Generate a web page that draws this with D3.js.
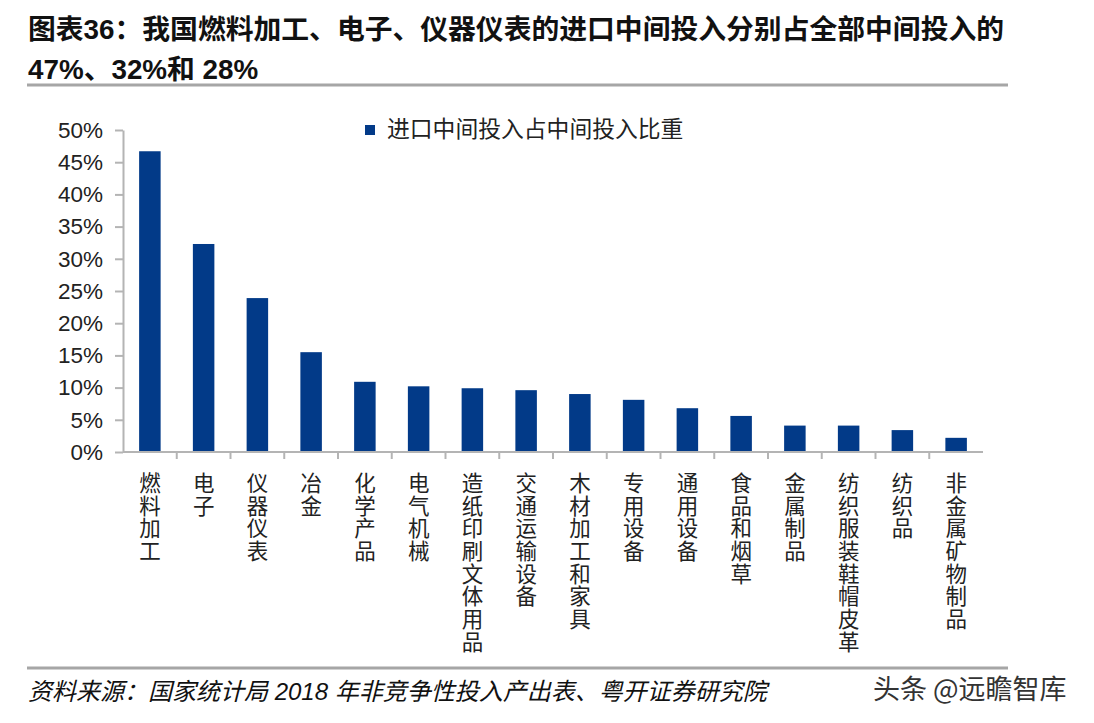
<!DOCTYPE html>
<html>
<head>
<meta charset="utf-8">
<script src="https://cdn.jsdelivr.net/npm/d3@7"></script>
<style>
  body { margin: 0; background: #fff; }
  svg { display: block; font-family: "Liberation Sans", "Noto Sans CJK SC", sans-serif; }
</style>
</head>
<body>
<svg id="chart" width="1094" height="723"></svg>
<script>
// data
const categories = ['燃料加工', '电子', '仪器仪表', '冶金', '化学产品', '电气机械', '造纸印刷文体用品',
    '交通运输设备', '木材加工和家具', '专用设备', '通用设备', '食品和烟草', '金属制品',
    '纺织服装鞋帽皮革', '纺织品', '非金属矿物制品'];
const shares = [46.7, 32.3, 23.9, 15.5, 10.9, 10.2, 9.9, 9.6, 9.0, 8.1, 6.8, 5.6, 4.1, 4.1, 3.4, 2.2];
const yTicks = [0, 5, 10, 15, 20, 25, 30, 35, 40, 45, 50];
const seriesName = '进口中间投入占中间投入比重';
const titleLines = ['图表36：我国燃料加工、电子、仪器仪表的进口中间投入分别占全部中间投入的', '47%、32%和 28%'];
const sourceText = '资料来源：国家统计局 2018 年非竞争性投入产出表、粤开证券研究院';
const watermark = '头条 @远瞻智库';

const barColor = '#023a88';
const axisColor = '#b4b4b4';

const svg = d3.select('#chart');

// title block
svg.selectAll('.title-line')
    .data(titleLines)
    .enter().append('text')
    .attr('class', 'title-line')
    .attr('x', 28)
    .attr('y', (d, i) => 39 + i * 40)
    .style('font-size', (d, i) => i === 0 ? '27.8px' : '27.8px')
    .style('font-weight', 'bold')
    .style('fill', '#111')
    .text(d => d);

svg.append('line')
    .attr('x1', 27).attr('x2', 1008)
    .attr('y1', 85).attr('y2', 85)
    .style('stroke', '#a6a6a6')
    .style('stroke-width', 3);

svg.append('line')
    .attr('x1', 27).attr('x2', 1008)
    .attr('y1', 668).attr('y2', 668)
    .style('stroke', '#a6a6a6')
    .style('stroke-width', 3);

// scales
const x = d3.scaleBand()
    .domain(categories)
    .range([123, 983])
    .paddingInner(0.6)
    .paddingOuter(0.3);

const xEdges = d3.scaleBand()
    .domain(categories)
    .range([123, 983]);

const y = d3.scaleLinear()
    .domain([0, 50])
    .range([452, 130]);

// y axis
const yAxis = svg.append('g')
    .attr('transform', 'translate(123,0)')
    .call(d3.axisLeft(y)
        .tickValues(yTicks)
        .tickFormat(d => d + '%')
        .tickSize(8)
        .tickSizeOuter(0)
        .tickPadding(12));

yAxis.select('.domain').style('stroke', axisColor).style('stroke-width', 2);
yAxis.selectAll('.tick line').style('stroke', axisColor).style('stroke-width', 2);
yAxis.selectAll('.tick text')
    .style('font-size', '22.5px')
    .style('fill', '#222')
    .style('font-family', '"Liberation Sans", sans-serif');

// bars
svg.append('g')
    .selectAll('rect')
    .data(categories)
    .enter().append('rect')
    .attr('x', d => x(d))
    .attr('width', x.bandwidth())
    .attr('y', (d, i) => y(shares[i]))
    .attr('height', (d, i) => y(0) - y(shares[i]))
    .style('fill', barColor);

// x axis: baseline plus ticks at band edges
const xAxis = svg.append('g');
xAxis.append('line')
    .attr('x1', 123).attr('x2', 983)
    .attr('y1', y(0)).attr('y2', y(0))
    .style('stroke', axisColor)
    .style('stroke-width', 2);

xAxis.selectAll('.edge')
    .data(categories.slice(1))
    .enter().append('line')
    .attr('class', 'edge')
    .attr('x1', d => xEdges(d)).attr('x2', d => xEdges(d))
    .attr('y1', y(0)).attr('y2', y(0) + 7)
    .style('stroke', axisColor)
    .style('stroke-width', 2);

xAxis.selectAll('.cat-label')
    .data(categories)
    .enter().append('text')
    .attr('class', 'cat-label')
    .attr('x', d => x(d) + x.bandwidth() / 2)
    .attr('y', 472)
    .style('writing-mode', 'vertical-rl')
    .style('text-orientation', 'upright')
    .style('font-family', '"Noto Sans CJK SC", sans-serif')
    .style('font-size', '21.5px')
    .style('letter-spacing', '1.2px')
    .style('fill', '#222')
    .text(d => d);

// legend
const legend = svg.append('g').attr('transform', 'translate(365,125)');
legend.append('rect')
    .attr('width', 10).attr('height', 10)
    .style('fill', barColor);
legend.append('text')
    .attr('x', 22).attr('y', 12)
    .style('font-family', '"Noto Sans CJK SC", sans-serif')
    .style('font-size', '22.8px')
    .style('fill', '#222')
    .text(seriesName);

// footer
svg.append('text')
    .attr('x', 28).attr('y', 700)
    .style('font-size', '24px')
    .style('font-style', 'italic')
    .style('fill', '#111')
    .text(sourceText);

svg.append('text')
    .attr('x', 873).attr('y', 699)
    .style('font-family', '"Noto Sans CJK SC", sans-serif')
    .style('font-size', '27px')
    .style('fill', '#333')
    .text(watermark);
</script>
</body>
</html>
